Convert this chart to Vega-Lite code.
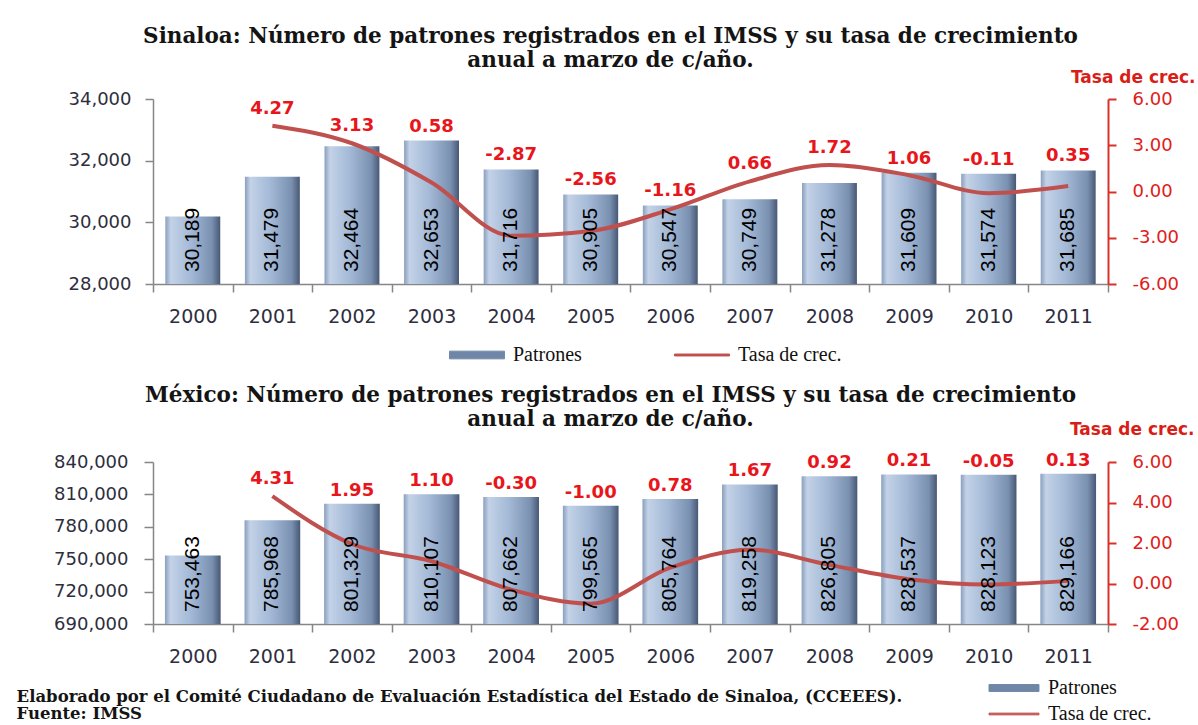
{
  "$schema": "https://vega.github.io/schema/vega-lite/v6.json",
  "background": "white",
  "padding": {"left": 16, "top": 25, "right": 0, "bottom": 0},
  "spacing": 19,
  "datasets": {
    "sinaloa": [
      {"year": "2000", "patrones": 30189, "rate": null},
      {"year": "2001", "patrones": 31479, "rate": 4.27},
      {"year": "2002", "patrones": 32464, "rate": 3.13},
      {"year": "2003", "patrones": 32653, "rate": 0.58},
      {"year": "2004", "patrones": 31716, "rate": -2.87},
      {"year": "2005", "patrones": 30905, "rate": -2.56},
      {"year": "2006", "patrones": 30547, "rate": -1.16},
      {"year": "2007", "patrones": 30749, "rate": 0.66},
      {"year": "2008", "patrones": 31278, "rate": 1.72},
      {"year": "2009", "patrones": 31609, "rate": 1.06},
      {"year": "2010", "patrones": 31574, "rate": -0.11},
      {"year": "2011", "patrones": 31685, "rate": 0.35}
    ],
    "mexico": [
      {"year": "2000", "patrones": 753463, "rate": null},
      {"year": "2001", "patrones": 785968, "rate": 4.31},
      {"year": "2002", "patrones": 801329, "rate": 1.95},
      {"year": "2003", "patrones": 810107, "rate": 1.10},
      {"year": "2004", "patrones": 807662, "rate": -0.30},
      {"year": "2005", "patrones": 799565, "rate": -1.00},
      {"year": "2006", "patrones": 805764, "rate": 0.78},
      {"year": "2007", "patrones": 819258, "rate": 1.67},
      {"year": "2008", "patrones": 826805, "rate": 0.92},
      {"year": "2009", "patrones": 828537, "rate": 0.21},
      {"year": "2010", "patrones": 828123, "rate": -0.05},
      {"year": "2011", "patrones": 829166, "rate": 0.13}
    ]
  },
  "title": {
    "text": ["Elaborado por el Comité Ciudadano de Evaluación Estadística del Estado de Sinaloa, (CCEEES).", "Fuente: IMSS"],
    "orient": "bottom",
    "anchor": "start",
    "frame": "bounds",
    "fontSize": 16.5,
    "lineHeight": 17,
    "offset": -35,
    "dx": -37
  },
  "resolve": {"scale": {"color": "independent"}, "legend": {"color": "independent"}},
  "vconcat": [
    {
      "data": {"name": "sinaloa"},
      "width": 955,
      "height": 185,
      "title": {
        "text": ["Sinaloa: Número de patrones registrados en el IMSS y su tasa de crecimiento", "anual a marzo de c/año."],
        "offset": -3,
        "dx": -20
      },
      "encoding": {
        "x": {
          "field": "year", "type": "ordinal",
          "scale": {"paddingInner": 0, "paddingOuter": 0},
          "axis": {"title": null, "labelAngle": 0, "tickBand": "extent", "tickSize": 8, "labelPadding": 15, "labelFontSize": 19}
        }
      },
      "resolve": {"scale": {"y": "independent"}},
      "layer": [
        {
          "mark": {
            "type": "bar", "width": {"band": 0.69},
            "fill": {"x1": 0, "y1": 0, "x2": 1, "y2": 0, "gradient": "linear", "stops": [
              {"offset": 0, "color": "#8a9fbd"},
              {"offset": 0.1, "color": "#c3d2e7"},
              {"offset": 0.45, "color": "#a4bad7"},
              {"offset": 0.85, "color": "#7a90b0"},
              {"offset": 1, "color": "#475875"}
            ]}
          },
          "encoding": {
            "y": {
              "field": "patrones", "type": "quantitative",
              "scale": {"domain": [28000, 34000], "zero": false},
              "axis": {"orient": "left", "title": null, "values": [28000, 30000, 32000, 34000], "format": ",.0f", "tickSize": 8, "labelPadding": 14}
            },
            "y2": {"datum": 28000}
          }
        },
        {
          "mark": {"type": "line", "interpolate": "monotone", "strokeWidth": 4},
          "encoding": {
            "y": {
              "field": "rate", "type": "quantitative",
              "scale": {"domain": [-6, 6]},
              "axis": {
                "orient": "right", "values": [-6, -3, 0, 3, 6], "format": ".2f",
                "title": "Tasa de crec.", "titleAngle": 0, "titleAlign": "right", "titleBaseline": "middle",
                "titleX": 87, "titleY": -22,
                "titleColor": "#d91e18", "titleFont": "DejaVu Sans", "titleFontSize": 17, "titleFontWeight": "bold",
                "labelColor": "#e0201b", "domainColor": "#d9302a", "domainWidth": 2, "tickColor": "#d9302a", "tickWidth": 2,
                "tickSize": 8, "labelPadding": 16
              }
            },
            "color": {
              "datum": "Tasa de crec.",
              "scale": {"domain": ["Patrones", "Tasa de crec."], "range": ["#7389aa", "#c0504d"]},
              "legend": {
                "title": null, "orient": "none", "legendX": 314, "legendY": 246, "direction": "horizontal",
                "columnPadding": 90, "symbolSize": 189, "symbolType": "M-4,-0.56H4V0.56H-4Z",
                "labelFont": "Liberation Serif", "labelFontSize": 20, "labelColor": "#111111", "labelOffset": 26,
                "encode": {
                  "symbols": {"update": {
                    "shape": {"signal": "datum.value === 'Patrones' ? 'M-4,-0.56H4V0.56H-4Z' : 'M-4,-0.14H4V0.14H-4Z'"},
                    "size": {"value": 189},
                    "fill": {"signal": "datum.value === 'Patrones' ? '#6f86a8' : '#c0504d'"},
                    "stroke": {"signal": "datum.value === 'Patrones' ? '#44556f' : '#c0504d'"},
                    "strokeWidth": {"value": 1},
                    "opacity": {"value": 1}
                  }}
                }
              }
            }
          }
        },
        {
          "mark": {"type": "text", "angle": 270, "align": "left", "baseline": "middle", "dx": 12, "font": "Liberation Sans", "fontSize": 21, "color": "#000000"},
          "encoding": {
            "y": {"datum": 28000, "type": "quantitative", "scale": {"domain": [28000, 34000], "zero": false}, "axis": null},
            "text": {"field": "patrones", "type": "quantitative", "format": ","}
          }
        },
        {
          "transform": [{"filter": {"field": "year", "oneOf": ["2003", "2004", "2005", "2006", "2009", "2010", "2011"]}}],
          "mark": {"type": "text", "baseline": "middle", "dy": -14, "font": "DejaVu Sans", "fontSize": 18, "fontWeight": "bold", "color": "#e8151b"},
          "encoding": {
            "y": {"field": "patrones", "type": "quantitative", "scale": {"domain": [28000, 34000], "zero": false}, "axis": null},
            "text": {"field": "rate", "type": "quantitative", "format": ".2f"}
          }
        },
        {
          "transform": [{"filter": {"field": "year", "oneOf": ["2001", "2002", "2007", "2008"]}}],
          "mark": {"type": "text", "baseline": "middle", "dy": -17, "font": "DejaVu Sans", "fontSize": 18, "fontWeight": "bold", "color": "#e8151b"},
          "encoding": {
            "y": {"field": "rate", "type": "quantitative", "scale": {"domain": [-6, 6]}, "axis": null},
            "text": {"field": "rate", "type": "quantitative", "format": ".2f"}
          }
        }
      ]
    },
    {
      "data": {"name": "mexico"},
      "width": 955,
      "height": 162,
      "title": {
        "text": ["México: Número de patrones registrados en el IMSS y su tasa de crecimiento", "anual a marzo de c/año."],
        "offset": -10,
        "dx": -20
      },
      "encoding": {
        "x": {
          "field": "year", "type": "ordinal",
          "scale": {"paddingInner": 0, "paddingOuter": 0},
          "axis": {"title": null, "labelAngle": 0, "tickBand": "extent", "tickSize": 8, "labelPadding": 15, "labelFontSize": 19}
        }
      },
      "resolve": {"scale": {"y": "independent"}},
      "layer": [
        {
          "mark": {
            "type": "bar", "width": {"band": 0.7},
            "fill": {"x1": 0, "y1": 0, "x2": 1, "y2": 0, "gradient": "linear", "stops": [
              {"offset": 0, "color": "#8a9fbd"},
              {"offset": 0.1, "color": "#c3d2e7"},
              {"offset": 0.45, "color": "#a4bad7"},
              {"offset": 0.85, "color": "#7a90b0"},
              {"offset": 1, "color": "#475875"}
            ]}
          },
          "encoding": {
            "y": {
              "field": "patrones", "type": "quantitative",
              "scale": {"domain": [690000, 840000], "zero": false},
              "axis": {"orient": "left", "title": null, "values": [690000, 720000, 750000, 780000, 810000, 840000], "format": ",.0f", "tickSize": 9, "labelPadding": 16}
            },
            "y2": {"datum": 690000}
          }
        },
        {
          "mark": {"type": "line", "interpolate": "monotone", "strokeWidth": 4},
          "encoding": {
            "y": {
              "field": "rate", "type": "quantitative",
              "scale": {"domain": [-2, 6]},
              "axis": {
                "orient": "right", "values": [-2, 0, 2, 4, 6], "format": ".2f",
                "title": "Tasa de crec.", "titleAngle": 0, "titleAlign": "right", "titleBaseline": "middle",
                "titleX": 86, "titleY": -33,
                "titleColor": "#d91e18", "titleFont": "DejaVu Sans", "titleFontSize": 17, "titleFontWeight": "bold",
                "labelColor": "#e0201b", "domainColor": "#d9302a", "domainWidth": 2, "tickColor": "#d9302a", "tickWidth": 2,
                "tickSize": 8, "labelPadding": 16
              }
            },
            "color": {
              "datum": "Tasa de crec.",
              "scale": {"domain": ["Patrones", "Tasa de crec."], "range": ["#7389aa", "#c0504d"]},
              "legend": {
                "title": null, "orient": "none", "legendX": 851, "legendY": 216, "direction": "vertical",
                "rowPadding": 6, "symbolSize": 156, "symbolType": "M-4,-0.56H4V0.56H-4Z",
                "labelFont": "Liberation Serif", "labelFontSize": 20, "labelColor": "#111111", "labelOffset": 24,
                "encode": {
                  "symbols": {"update": {
                    "shape": {"signal": "datum.value === 'Patrones' ? 'M-4,-0.56H4V0.56H-4Z' : 'M-4,-0.14H4V0.14H-4Z'"},
                    "size": {"value": 156},
                    "fill": {"signal": "datum.value === 'Patrones' ? '#6f86a8' : '#c0504d'"},
                    "stroke": {"signal": "datum.value === 'Patrones' ? '#44556f' : '#c0504d'"},
                    "strokeWidth": {"value": 1},
                    "opacity": {"value": 1}
                  }}
                }
              }
            }
          }
        },
        {
          "mark": {"type": "text", "angle": 270, "align": "left", "baseline": "middle", "dx": 12, "font": "Liberation Sans", "fontSize": 21, "color": "#000000"},
          "encoding": {
            "y": {"datum": 690000, "type": "quantitative", "scale": {"domain": [690000, 840000], "zero": false}, "axis": null},
            "text": {"field": "patrones", "type": "quantitative", "format": ","}
          }
        },
        {
          "transform": [{"filter": {"field": "year", "oneOf": ["2002", "2003", "2004", "2005", "2006", "2007", "2008", "2009", "2010", "2011"]}}],
          "mark": {"type": "text", "baseline": "middle", "dy": -13, "font": "DejaVu Sans", "fontSize": 18, "fontWeight": "bold", "color": "#e8151b"},
          "encoding": {
            "y": {"field": "patrones", "type": "quantitative", "scale": {"domain": [690000, 840000], "zero": false}, "axis": null},
            "text": {"field": "rate", "type": "quantitative", "format": ".2f"}
          }
        },
        {
          "transform": [{"filter": {"field": "year", "oneOf": ["2001"]}}],
          "mark": {"type": "text", "baseline": "middle", "dy": -17, "font": "DejaVu Sans", "fontSize": 18, "fontWeight": "bold", "color": "#e8151b"},
          "encoding": {
            "y": {"field": "rate", "type": "quantitative", "scale": {"domain": [-2, 6]}, "axis": null},
            "text": {"field": "rate", "type": "quantitative", "format": ".2f"}
          }
        }
      ]
    }
  ],
  "config": {
    "locale": {"number": {"decimal": ".", "thousands": ",", "grouping": [3], "currency": ["$", ""], "minus": "-"}},
    "view": {"stroke": null},
    "title": {"font": "DejaVu Serif", "fontSize": 21.5, "fontWeight": "bold", "color": "#141414", "anchor": "middle", "lineHeight": 24},
    "axis": {
      "grid": false,
      "labelFont": "DejaVu Sans", "labelFontSize": 18, "labelColor": "#2e2e3e",
      "domainColor": "#868686", "domainWidth": 1.5, "tickColor": "#868686", "tickWidth": 1.5
    }
  }
}
